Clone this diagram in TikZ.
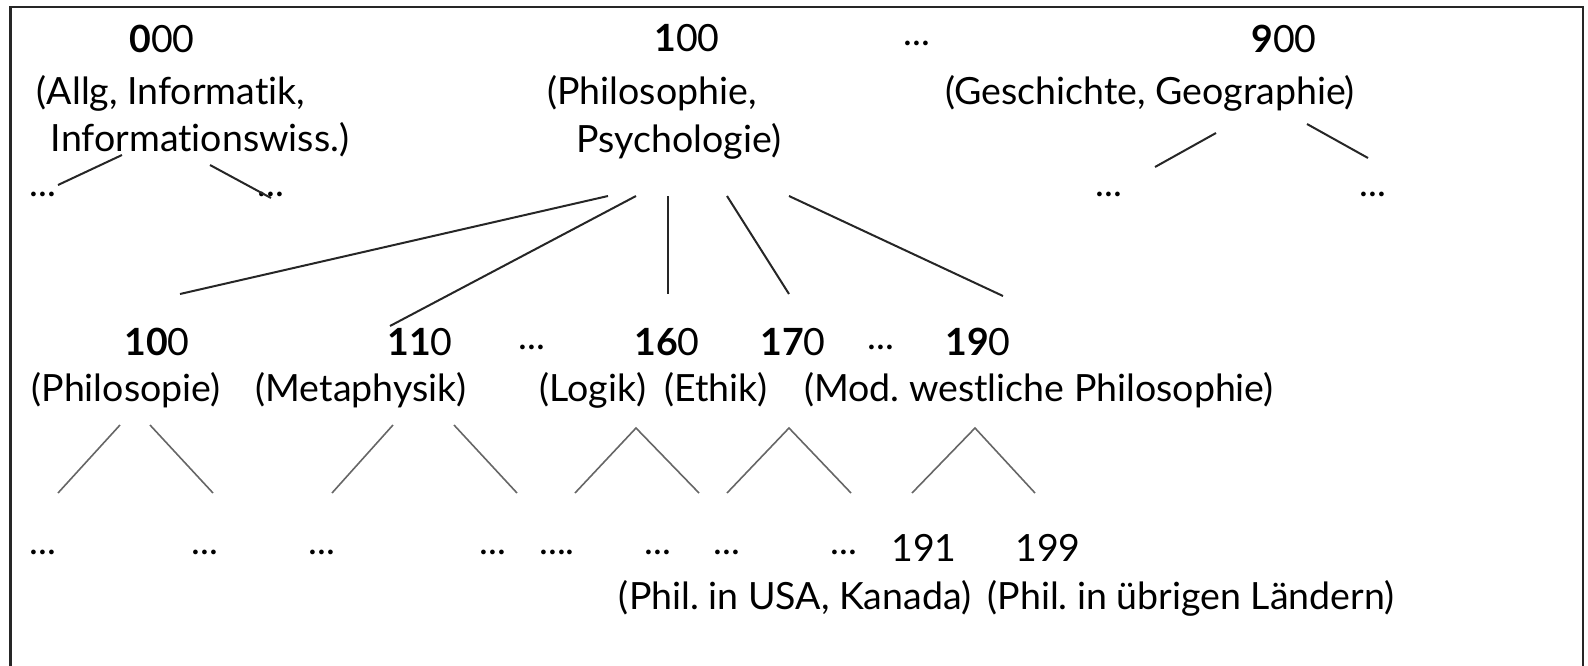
\documentclass[tikz,border=0pt]{standalone}
\usepackage{fontspec}
\setmainfont{Lato}[Ligatures={NoCommon}]
\frenchspacing
\begin{document}
\begin{tikzpicture}[x=1pt,y=-1pt,
  txt/.style={inner sep=0pt, font=\fontsize{37.5}{44}\selectfont},
  dotsn/.style={inner sep=0pt, font=\fontsize{37.5}{44}\selectfont},
  edgetop/.style={draw=black!85, line width=2pt},
  edgelow/.style={draw=black!60, line width=1.6pt},
  frame/.style={draw=black!85, line width=2.2pt}]
\useasboundingbox (0,0) rectangle (1588,665);
% frame (bottom edge lies outside the picture)
\coordinate (f1) at (10.5,670);
\coordinate (f2) at (10.5,7);
\coordinate (f3) at (1583,7);
\coordinate (f4) at (1583,670);
\draw[frame] (f1) -- (f2) -- (f3) -- (f4);

% top row
\node[txt] (n000) at (162,38.5) {\textbf{0}00};
\node[txt] (n100) at (687,38.5) {\textbf{1}00};
\node[dotsn] (ntopdots) at (917,43) {...};
\node[txt] (n900) at (1284,38.5) {\textbf{9}00};
\node[txt] (l000a) at (171,93) {(Allg, Informatik,};
\node[txt] (l000b) at (200,140) {Informationswiss.)};
\node[txt] (l100a) at (652,93) {(Philosophie,};
\node[txt] (l100b) at (679,141) {Psychologie)};
\node[txt] (l900) at (1150,93) {(Geschichte, Geographie)};
\node[dotsn] (d0a) at (43,194.5) {...};
\node[dotsn] (d0b) at (271,194.5) {...};
\node[dotsn] (d9a) at (1109,194.5) {...};
\node[dotsn] (d9b) at (1373,194.5) {...};

% second row
\node[txt] (m100) at (157,342) {\textbf{10}0};
\node[txt] (m110) at (420,342) {\textbf{11}0};
\node[dotsn] (mdots1) at (532,347) {...};
\node[txt] (m160) at (667,342) {\textbf{16}0};
\node[txt] (m170) at (793,342) {\textbf{17}0};
\node[dotsn] (mdots2) at (881,347) {...};
\node[txt] (m190) at (978,342) {\textbf{19}0};
\node[txt] (lm100) at (126,390) {(Philosopie)};
\node[txt] (lm110) at (361,390) {(Metaphysik)};
\node[txt] (lm160) at (593,390) {(Logik)};
\node[txt] (lm170) at (716,390) {(Ethik)};
\node[txt] (lm190) at (1039,390) {(Mod. westliche Philosophie)};

% bottom row
\node[dotsn] (b1) at (43,552) {...};
\node[dotsn] (b2) at (205,552) {...};
\node[dotsn] (b3) at (322,552) {...};
\node[dotsn] (b4) at (493,552) {...};
\node[dotsn] (b5) at (557,552) {....};
\node[dotsn] (b6) at (658,552) {...};
\node[dotsn] (b7) at (727,552) {...};
\node[dotsn] (b8) at (844,552) {...};
\node[txt] (b191) at (924,548) {191};
\node[txt] (b199) at (1048,548) {199};
\node[txt] (lb191) at (795,598) {(Phil. in USA, Kanada)};
\node[txt] (lb199) at (1191,598) {(Phil. in übrigen Ländern)};

% connector end points
\coordinate (c0s1) at (122,155); \coordinate (c0e1) at (58,185);
\coordinate (c0s2) at (210,165); \coordinate (c0e2) at (271,198);
\coordinate (c1s1) at (608,196); \coordinate (c1e1) at (180,294);
\coordinate (c1s2) at (636,196); \coordinate (c1e2) at (390,326);
\coordinate (c1s3) at (668,196); \coordinate (c1e3) at (668,294);
\coordinate (c1s4) at (727,196); \coordinate (c1e4) at (789,294);
\coordinate (c1s5) at (789,196); \coordinate (c1e5) at (1003,296);
\coordinate (c9s1) at (1216,133); \coordinate (c9e1) at (1155,167);
\coordinate (c9s2) at (1307,124); \coordinate (c9e2) at (1368,158);

\draw[edgetop] (c0s1) -- (c0e1);
\draw[edgetop] (c0s2) -- (c0e2);
\draw[edgetop] (c1s1) -- (c1e1);
\draw[edgetop] (c1s2) -- (c1e2);
\draw[edgetop] (c1s3) -- (c1e3);
\draw[edgetop] (c1s4) -- (c1e4);
\draw[edgetop] (c1s5) -- (c1e5);
\draw[edgetop] (c9s1) -- (c9e1);
\draw[edgetop] (c9s2) -- (c9e2);

\coordinate (p1a) at (120,425); \coordinate (p1b) at (58,493);
\coordinate (p2a) at (150,425); \coordinate (p2b) at (213,493);
\coordinate (p3a) at (393,425); \coordinate (p3b) at (332,493);
\coordinate (p4a) at (454,425); \coordinate (p4b) at (517,493);
\coordinate (a160) at (636,428); \coordinate (a160l) at (575,493); \coordinate (a160r) at (699,493);
\coordinate (a170) at (789,428); \coordinate (a170l) at (727,493); \coordinate (a170r) at (851,493);
\coordinate (a190) at (975,428); \coordinate (a190l) at (912,493); \coordinate (a190r) at (1035,493);

\draw[edgelow] (p1a) -- (p1b);
\draw[edgelow] (p2a) -- (p2b);
\draw[edgelow] (p3a) -- (p3b);
\draw[edgelow] (p4a) -- (p4b);
\draw[edgelow] (a160l) -- (a160) -- (a160r);
\draw[edgelow] (a170l) -- (a170) -- (a170r);
\draw[edgelow] (a190l) -- (a190) -- (a190r);
\end{tikzpicture}
\end{document}
